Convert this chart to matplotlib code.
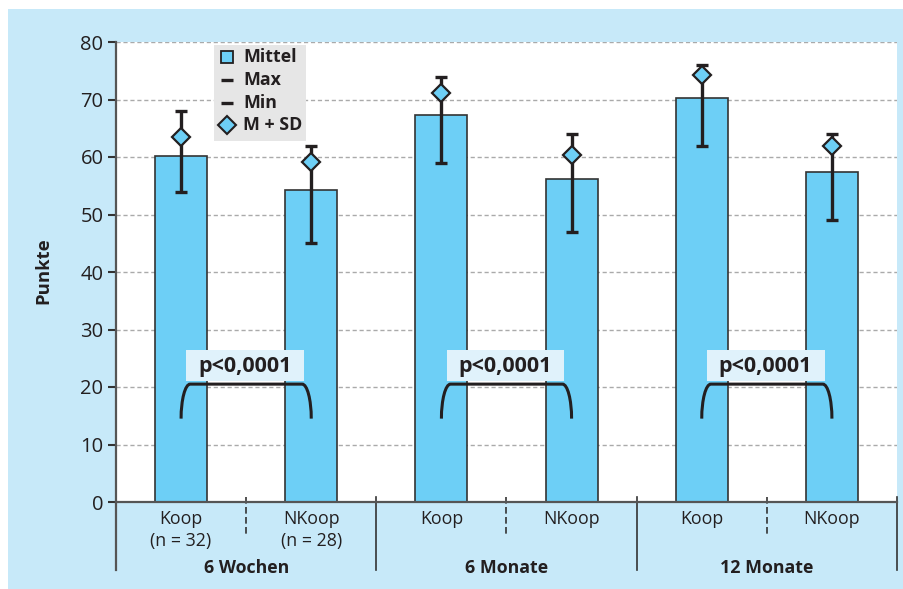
from matplotlib import pyplot as plt
from matplotlib.path import Path
from matplotlib.patches import PathPatch, Rectangle
from matplotlib.lines import Line2D
from matplotlib import transforms

plt.rcParams['font.family'] = ['Open Sans', 'DejaVu Sans']

# Daten (Punkte)
kategorien = ['Koop', 'NKoop', 'Koop', 'NKoop', 'Koop', 'NKoop']
n_labels = ['(n = 32)', '(n = 28)', '', '', '', '']
gruppen = ['6 Wochen', '6 Monate', '12 Monate']
mittel = [60.2, 54.3, 67.3, 56.2, 70.3, 57.4]
maximum = [68, 62, 74, 64, 76, 64]
minimum = [54, 45, 59, 47, 62, 49]
m_sd = [63.5, 59.1, 71.1, 60.3, 74.3, 62.0]
p_texte = ['p<0,0001', 'p<0,0001', 'p<0,0001']

W, H = 904, 589
bar_color = '#6dcff6'
bg_color = '#c7e9f9'
dark = '#231f20'

fig = plt.figure(figsize=(W / 100, H / 100), dpi=100)
fig.patch.set_facecolor('white')
# hellblauer Hintergrund
fig.add_artist(Rectangle((8 / W, 0), 1, 1 - 9 / H, transform=fig.transFigure,
                         facecolor=bg_color, edgecolor='none', zorder=0))

ax = fig.add_axes([116 / W, 1 - 502 / H, 781 / W, 460 / H])
ax.set_facecolor('white')
ax.set_xlim(-0.5, 5.5)
ax.set_ylim(0, 80)

x = list(range(len(mittel)))
ax.bar(x, mittel, width=0.4, color=bar_color, edgecolor='#333333', linewidth=1.2, zorder=2)
err_lo = [m - lo for m, lo in zip(mittel, minimum)]
err_hi = [hi - m for m, hi in zip(mittel, maximum)]
ax.errorbar(x, mittel, yerr=[err_lo, err_hi], fmt='none', ecolor=dark,
            elinewidth=2.4, capsize=4.5, capthick=2.4, zorder=3)
ax.plot(x, m_sd, linestyle='none', marker='D', markersize=9,
        markerfacecolor=bar_color, markeredgecolor=dark, markeredgewidth=1.6, zorder=4)

# Gitter und Achsen
ax.set_yticks(range(0, 81, 10))
ax.yaxis.grid(True, color='#aaaaaa', linestyle=(0, (3, 2)), linewidth=1)
ax.set_axisbelow(True)
ax.set_xticks([])
ax.tick_params(axis='y', length=6, width=1.5, color='#333333', labelsize=14.5,
               labelcolor=dark, pad=3)
for s in ['top', 'right']:
    ax.spines[s].set_visible(False)
for s in ['left', 'bottom']:
    ax.spines[s].set_color('#555555')
    ax.spines[s].set_linewidth(1.6)

fig.text(43 / W, 1 - 271 / H, 'Punkte', rotation=90, ha='center', va='center',
         fontsize=13.3, fontweight='bold', color=dark)

# Klammern mit p-Werten
rx, yb, yt = 0.07, 14.5, 20.5
k = 0.552
for g in range(3):
    x0, x1 = 2 * g, 2 * g + 1
    verts = [(x0, yb), (x0, yb + k * (yt - yb)), (x0 + rx - k * rx, yt), (x0 + rx, yt),
             (x1 - rx, yt),
             (x1 - rx + k * rx, yt), (x1, yb + k * (yt - yb)), (x1, yb)]
    codes = [Path.MOVETO, Path.CURVE4, Path.CURVE4, Path.CURVE4,
             Path.LINETO,
             Path.CURVE4, Path.CURVE4, Path.CURVE4]
    ax.add_patch(PathPatch(Path(verts, codes), fill=False, edgecolor=dark,
                           linewidth=2.2, capstyle='butt', zorder=5))
    # heller Kasten hinter dem p-Wert
    ax.add_patch(Rectangle((x0 + 0.04, 21.0), 0.905, 5.4, facecolor='#e0f2fb',
                           edgecolor='none', zorder=5))
    ax.text(x0 + 0.49, 23.6, p_texte[g], ha='center', va='center', fontsize=15.5,
            fontweight='bold', color=dark, zorder=6)

# Beschriftung der x-Achse
trans = transforms.blended_transform_factory(ax.transData, fig.transFigure)
for i in x:
    ax.text(i, 1 - 519 / H, kategorien[i], transform=trans, ha='center', va='center',
            fontsize=12.8, color=dark)
    if n_labels[i]:
        ax.text(i, 1 - 541 / H, n_labels[i], transform=trans, ha='center', va='center',
                fontsize=12.8, color=dark)
for g in range(3):
    ax.text(2 * g + 0.5, 1 - 568 / H, gruppen[g], transform=trans, ha='center', va='center',
            fontsize=12.8, fontweight='bold', color=dark)
    ax.add_line(Line2D([2 * g + 0.5] * 2, [1 - 497 / H, 1 - 537 / H], transform=trans,
                       color='#333333', linewidth=1.2, linestyle=(0, (4, 2)), clip_on=False))
for xs in [-0.5, 1.5, 3.5, 5.5]:
    top = 502 if xs == -0.5 else 497
    ax.add_line(Line2D([xs, xs], [1 - top / H, 1 - 570 / H], transform=trans,
                       color='#333333' if xs != -0.5 else '#555555',
                       linewidth=1.2 if xs != -0.5 else 1.6, clip_on=False))

# Legende (von Hand)
fig.add_artist(Rectangle((214 / W, 1 - 141 / H), 92 / W, 96 / H, transform=fig.transFigure,
                         facecolor='#e6e6e6', edgecolor='none', zorder=5))
leg_rows = [57, 80, 103, 125]
leg_labels = ['Mittel', 'Max', 'Min', 'M + SD']
leg_marker = [dict(marker='s', markersize=9, markerfacecolor=bar_color, markeredgecolor=dark, markeredgewidth=1.3),
              dict(marker='_', markersize=8, markeredgecolor=dark, markeredgewidth=2.4),
              dict(marker='_', markersize=8, markeredgecolor=dark, markeredgewidth=2.4),
              dict(marker='D', markersize=9, markerfacecolor=bar_color, markeredgecolor=dark, markeredgewidth=1.5)]
for yy, lab, mk in zip(leg_rows, leg_labels, leg_marker):
    fig.add_artist(Line2D([227 / W], [1 - yy / H], transform=fig.transFigure,
                          linestyle='none', zorder=6, **mk))
    fig.text(243 / W, 1 - yy / H, lab, ha='left', va='center', fontsize=12.8,
             fontweight='bold', color=dark, zorder=6)

plt.savefig('out.png', dpi=100)
